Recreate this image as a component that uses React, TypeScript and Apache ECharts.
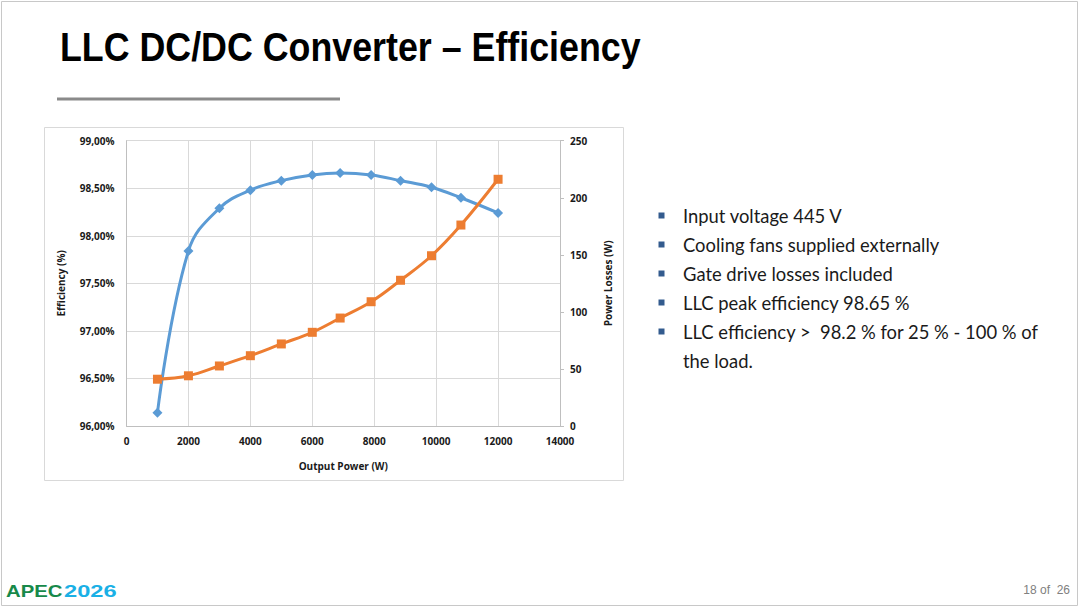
import React, { useEffect, useRef } from "react";
import * as echarts from "echarts";

const outputPower = [1000, 2000, 3000, 4000, 5000, 6000, 6900, 7900, 8850, 9850, 10800, 12000];
const efficiency = [96.14, 97.84, 98.29, 98.48, 98.58, 98.64, 98.66, 98.64, 98.58, 98.51, 98.4, 98.24];
const powerLosses = [41, 44, 52.6, 61.6, 71.9, 82.1, 94.6, 108.9, 127.7, 149.2, 176.1, 216.2];

const title = "LLC DC/DC Converter – Efficiency";
const bulletItems = [
  ["Input voltage 445 V"],
  ["Cooling fans supplied externally"],
  ["Gate drive losses included"],
  ["LLC peak efficiency 98.65 %"],
  ["LLC efficiency >  98.2 % for 25 % - 100 % of", "the load."],
];
const pageLabel = "18 of  26";

export default function App() {
  const ref = useRef<HTMLDivElement>(null);
  useEffect(() => {
    if (!ref.current) return;
    const chart = echarts.init(ref.current, null, { renderer: "svg" });
    const axisFont = { fontFamily: "Open Sans", fontWeight: "bold" as const, fontSize: 10, color: "#1a1a1a" };

    const graphics: any[] = [
      { type: "rect", shape: { x: 1.5, y: 1.5, width: 1076, height: 604 }, style: { fill: "none", stroke: "#c8c8c8", lineWidth: 1 }, z: -10 },
      { type: "text", x: 60, y: 47, scaleX: 0.895, style: { text: title, fontFamily: "Liberation Sans", fontWeight: "bold", fontSize: 40, fill: "#000", verticalAlign: "middle" } },
      { type: "rect", shape: { x: 57, y: 97.5, width: 283, height: 3 }, style: { fill: "#8a8a8a" } },
      { type: "rect", shape: { x: 44.5, y: 127.5, width: 579, height: 353 }, style: { fill: "none", stroke: "#d9d9d9", lineWidth: 1 }, z: -5 },
      { type: "text", x: 1070, y: 590, style: { text: pageLabel, fontFamily: "Liberation Sans", fontSize: 12, fill: "#808080", align: "right", verticalAlign: "middle" } },
      { type: "text", x: 6, y: 591, scaleX: 1.27, style: { text: "APEC", fontFamily: "Liberation Sans", fontWeight: 900, fontSize: 16, fill: "#17894a", verticalAlign: "middle" } },
      { type: "text", x: 64, y: 591, scaleX: 1.48, style: { text: "2026", fontFamily: "Liberation Sans", fontWeight: 900, fontSize: 16, fill: "#1ab0e6", verticalAlign: "middle" } },
    ];
    let line = 0;
    bulletItems.forEach((item) => {
      item.forEach((t, j) => {
        const y = 216 + line * 29;
        if (j === 0) {
          graphics.push({ type: "rect", shape: { x: 658.5, y: y - 3.5, width: 6, height: 6 }, style: { fill: "#335b8e" } });
        }
        graphics.push({ type: "text", x: 683, y, style: { text: t, fontFamily: "Lato", fontSize: 18.4, fill: "#1a1a1a", verticalAlign: "middle" } });
        line++;
      });
    });

    chart.setOption({
      animation: false,
      backgroundColor: "#ffffff",
      grid: { left: 126.5, right: 520, top: 140.7, bottom: 184, containLabel: false },
      xAxis: {
        type: "value",
        min: 0,
        max: 14000,
        interval: 2000,
        name: "Output Power (W)",
        nameLocation: "middle",
        nameGap: 35,
        nameTextStyle: axisFont,
        axisLine: { show: true, lineStyle: { color: "#bfbfbf", width: 1 } },
        axisTick: { show: false },
        axisLabel: { ...axisFont, margin: 10, formatter: (v: number) => String(v) },
        splitLine: { show: true, lineStyle: { color: "#d9d9d9", width: 1 } },
      },
      yAxis: [
        {
          type: "value",
          min: 96,
          max: 99,
          interval: 0.5,
          name: "Efficiency (%)",
          nameLocation: "middle",
          nameRotate: 90,
          nameGap: 61,
          nameTextStyle: axisFont,
          axisLine: { show: true, lineStyle: { color: "#bfbfbf", width: 1 } },
          axisTick: { show: false },
          axisLabel: { ...axisFont, margin: 12, formatter: (v: number) => v.toFixed(2).replace(".", ",") + "%" },
          splitLine: { show: true, lineStyle: { color: "#d9d9d9", width: 1 } },
        },
        {
          type: "value",
          position: "right",
          min: 0,
          max: 250,
          interval: 50,
          name: "Power Losses (W)",
          nameLocation: "middle",
          nameRotate: 90,
          nameGap: 43,
          nameTextStyle: axisFont,
          axisLine: { show: true, lineStyle: { color: "#bfbfbf", width: 1 } },
          axisTick: { show: true, inside: false, length: 4, lineStyle: { color: "#bfbfbf" } },
          axisLabel: { ...axisFont, margin: 10, formatter: (v: number) => String(v) },
          splitLine: { show: false },
        },
      ],
      series: [
        {
          name: "Efficiency",
          type: "line",
          yAxisIndex: 0,
          data: outputPower.map((x, i) => [x, efficiency[i]]),
          smooth: 0.4,
          symbol: "diamond",
          symbolSize: 10,
          lineStyle: { color: "#5b9bd5", width: 3 },
          itemStyle: { color: "#5b9bd5" },
        },
        {
          name: "Power Losses",
          type: "line",
          yAxisIndex: 1,
          data: outputPower.map((x, i) => [x, powerLosses[i]]),
          smooth: 0.4,
          symbol: "rect",
          symbolSize: 9,
          lineStyle: { color: "#ed7d31", width: 3 },
          itemStyle: { color: "#ed7d31" },
        },
      ],
      graphic: graphics,
    });
    return () => chart.dispose();
  }, []);
  return <div ref={ref} style={{ position: "absolute", left: 0, top: 0, width: 1080, height: 610 }} />;
}
